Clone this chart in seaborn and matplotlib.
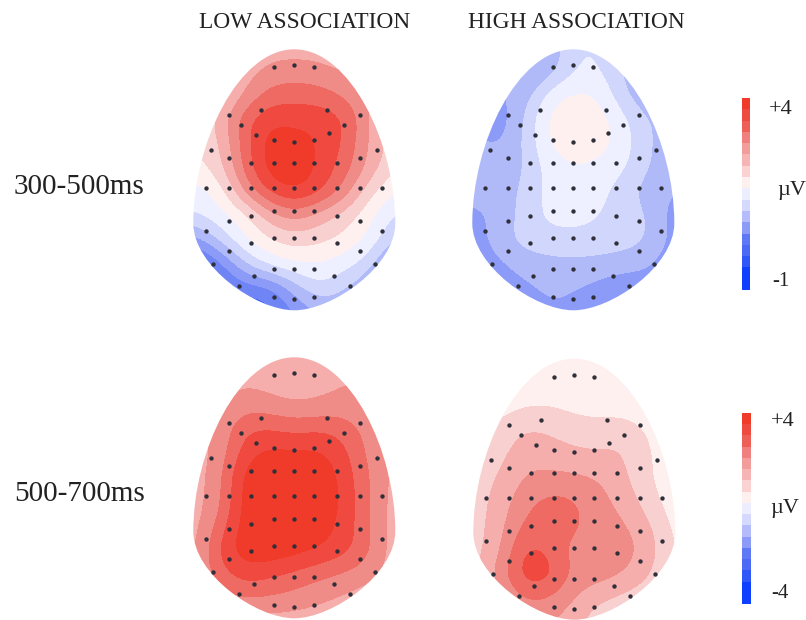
"""
Scalp potential maps: low vs high association, two time windows.
"""

import numpy as np
import pandas as pd
import matplotlib
matplotlib.use("Agg")
import matplotlib.pyplot as plt
import seaborn as sns
from matplotlib.colors import BoundaryNorm, ListedColormap
from matplotlib.path import Path
from matplotlib.patches import PathPatch

plt.rcParams["font.family"] = ["Liberation Serif", "DejaVu Serif"]

COLUMN_TITLES = ["LOW ASSOCIATION", "HIGH ASSOCIATION"]
ROW_TITLES = ["300-500ms", "500-700ms"]

# colour step per map region, blue (0) to red (13)
MAP_COLORS = ["#1a40ff", "#3a60f5", "#6f85f5", "#8c9bf8", "#b0baf9", "#d0d6fc", "#eef0ff",
              "#fdf0ee", "#f9d0d0", "#f5aeac", "#f08c88", "#ee6a62", "#f04a40", "#f03a2a"]
BAR_COLORS = ["#f03a2a", "#ee4a40", "#ee5f58", "#f08080", "#f39c9c", "#f7b4b4", "#fad2d2", "#fdf0ee",
              "#eceeff", "#d4d9fd", "#b4bcfb", "#8d9bf8", "#5f78f5", "#4d6af6", "#3058f8", "#1040ff", "#1040ff"]

GRID_DX = [-100, -75, -50, -25, 0, 25, 50, 75, 100]
GRID_DY = [-140, -116, -92, -68, -44, -20, 4, 28, 52, 76, 100, 124]

LOW_EARLY = [
    [9, 9, 9, 9.5, 9.5, 9.5, 9, 9, 9],
    [8, 9, 9.5, 10.3, 10.5, 10.3, 10, 9.5, 8],
    [8, 8.5, 10, 11.5, 11.6, 11.5, 10.8, 10, 8],
    [8, 9.3, 11.8, 12.9, 12.7, 12.8, 12.2, 10, 8],
    [8, 8.8, 11.6, 13.6, 13.6, 12.9, 12, 9.8, 8.5],
    [7.6, 8.5, 11.4, 13.6, 14, 12.8, 11.6, 9.7, 8],
    [6.5, 7.3, 10.3, 12.4, 13.2, 12.4, 10.7, 8.3, 7],
    [6, 6.6, 7.5, 9.5, 10.5, 9.5, 8.5, 7.3, 5.7],
    [3.5, 5.3, 7, 8, 8.5, 8.2, 7.8, 6.8, 5],
    [1, 2.5, 5, 6.5, 7, 7, 6.5, 5.5, 3],
    [1, 1.5, 2.5, 2.5, 4.5, 6, 5, 4, 2],
    [1, 1, 1, 1.5, 3, 4, 4, 4, 4],
]
HIGH_EARLY = [
    [4, 4, 4, 4, 6, 6, 5, 4, 4],
    [4, 4, 3.6, 4.3, 6, 6.2, 4.9, 3.6, 3.6],
    [4, 4, 4.2, 6.6, 7.3, 7, 5.2, 4, 4],
    [3.6, 3.2, 5, 7.3, 7.8, 7.6, 6.3, 5, 4.5],
    [4.4, 3.8, 5, 7.2, 7.6, 7.5, 6.6, 5, 4.5],
    [4.4, 4.4, 4.8, 6.5, 6.9, 6.8, 6.2, 5, 4.3],
    [4.4, 4.4, 5.2, 6.3, 6.9, 6.4, 5.4, 4.5, 4],
    [3.7, 4.2, 5.4, 6.3, 6.5, 6, 5.5, 5.1, 3.4],
    [3.5, 4.5, 5.5, 5.6, 5.6, 5.6, 5.5, 5.1, 3.6],
    [3.2, 3.8, 4.4, 4.7, 4.8, 4.7, 4.5, 4.2, 3.2],
    [3, 3.3, 3.8, 4.2, 4.1, 3.7, 3.2, 3.4, 3],
    [2.6, 2.6, 3.2, 3.9, 3.7, 2.9, 2.3, 2.6, 2.6],
]
LOW_LATE = [
    [9.4, 9.4, 9.4, 9.4, 9.4, 9.4, 9.4, 9.4, 9.4],
    [9.6, 9.6, 9.8, 9.6, 9.2, 9.6, 10, 10, 9.8],
    [9.7, 9.8, 10.6, 10.3, 10, 10.1, 10.3, 10.2, 9.8],
    [9.8, 10.2, 11.9, 12, 11.6, 11.9, 11.6, 10.5, 9.8],
    [9.5, 10.2, 12.6, 13.3, 13.2, 13.2, 12.3, 10.7, 9.5],
    [9.5, 10.6, 13.5, 14, 14, 14, 12.6, 11, 9.6],
    [9.5, 10.6, 13.6, 14, 14, 14, 12.8, 11, 9.5],
    [9.5, 11.3, 13.6, 14, 14, 13.6, 12.7, 11, 9.4],
    [9.6, 12.3, 13.8, 13.8, 13.6, 13.1, 12.5, 11.2, 9.4],
    [9.8, 11.7, 12.7, 12.4, 11.9, 11.4, 11, 10.5, 9.4],
    [9.6, 10.6, 11.2, 11, 10.7, 10.2, 9.8, 9.4, 9.2],
    [9.5, 9.5, 9.5, 9.5, 9.5, 9.5, 9.5, 9.5, 9.5],
]
HIGH_LATE = [
    [7, 7, 7, 7, 7, 7, 7, 7, 7],
    [6.8, 7, 7.1, 7.2, 7.2, 7.2, 6.9, 6.7, 6.7],
    [7.2, 7.5, 7.9, 8, 7.6, 7.4, 7.2, 6.8, 6.9],
    [8, 8.3, 9.1, 8.9, 8.6, 8.5, 8.9, 7.8, 7],
    [8.3, 8.6, 9.7, 9.4, 9.1, 9, 9.1, 8, 7.5],
    [8.4, 9.1, 10.1, 10.3, 10.2, 10, 9.2, 8, 7.4],
    [8.5, 9.4, 10.7, 11.4, 11.2, 10.3, 9.7, 8.4, 7.4],
    [8.5, 9.6, 11.3, 11.6, 11.3, 10.4, 10.2, 9.2, 7.6],
    [8.5, 9.8, 12.3, 11.8, 10.5, 10.4, 10.5, 9.6, 7.8],
    [8.7, 10.5, 12.8, 12.6, 10.6, 10.6, 10.1, 9.2, 7.6],
    [9, 9.6, 11.2, 11, 10, 9.2, 8.7, 8.2, 7.5],
    [9, 9.3, 10, 10, 9.4, 8.2, 8, 7.8, 7.5],
]

# electrode sites, relative to the map centre
ELECTRODE_DX = [-20, 0, 20, -33, 33, -65, 66, -53, 50, -38, 35, -20, 0, 20, -83, 83,
                -65, 66, -43, -20, 0, 20, 43,
                -88, -65, -43, -20, 0, 20, 43, 66, 88,
                -20, 0, 20, -43, 43, -65, 66, -88, 88,
                -20, 0, 20, -43, 43, -65, 66, -81, 81,
                -20, 0, 20, -40, 40, -55, 56, -20, 0, 20]
ELECTRODE_DY = [-121, -123, -121, -78, -78, -73, -73, -63, -63, -53, -55, -48, -46, -48, -38, -38,
                -30, -30, -25, -25, -25, -25, -25,
                0, 0, 0, 0, 0, 0, 0, 0, 0,
                23, 23, 23, 28, 28, 33, 33, 43, 43,
                50, 50, 50, 55, 55, 63, 63, 76, 76,
                81, 81, 81, 88, 88, 98, 98, 109, 111, 109]

MAPS = [
    (LOW_EARLY, 294.3, 188.3),
    (HIGH_EARLY, 573.3, 188.3),
    (LOW_LATE, 294.3, 496.3),
    (HIGH_LATE, 574.3, 497.7),
]


def egg_path(cx, cy):
    verts = [(0, -139), (56, -139), (101, -45), (101, 35), (101, 78), (38, 122), (0, 122),
             (-38, 122), (-101, 78), (-101, 35), (-101, -45), (-56, -139), (0, -139)]
    codes = [Path.MOVETO] + [Path.CURVE4] * 12
    return Path([(cx + x, cy + y) for x, y in verts], codes)


def draw_map(ax, grid, cx, cy):
    cmap = ListedColormap(MAP_COLORS)
    norm = BoundaryNorm(np.arange(len(MAP_COLORS) + 1), cmap.N, clip=True)
    extent = [cx + GRID_DX[0] - 12.5, cx + GRID_DX[-1] + 12.5, cy + GRID_DY[-1] + 12, cy + GRID_DY[0] - 12]
    im = ax.imshow(np.array(grid), cmap=cmap, norm=norm, extent=extent, aspect="auto",
                   interpolation="bicubic", interpolation_stage="data", zorder=1)
    patch = PathPatch(egg_path(cx, cy), transform=ax.transData, facecolor="none", edgecolor="none")
    ax.add_patch(patch)
    im.set_clip_path(patch)

    sites = pd.DataFrame({"x": np.array(ELECTRODE_DX) + cx, "y": np.array(ELECTRODE_DY) + cy})
    sns.scatterplot(data=sites, x="x", y="y", ax=ax, s=10, color="#30303a", linewidth=0, zorder=2)


def draw_scale(fig, left, top, width, height):
    ax = fig.add_axes([left / 806, 1 - (top + height) / 620, width / 806, height / 620])
    cells = np.arange(len(BAR_COLORS)).reshape(-1, 1)
    sns.heatmap(cells, cmap=ListedColormap(BAR_COLORS), cbar=False, ax=ax,
                xticklabels=False, yticklabels=False)
    ax.set_xlabel("")
    ax.set_ylabel("")


fig = plt.figure(figsize=(8.06, 6.2), dpi=100)
ax = fig.add_axes([0, 0, 1, 1])

for grid, cx, cy in MAPS:
    draw_map(ax, grid, cx, cy)

ax.set_xlim(0, 806)
ax.set_ylim(620, 0)
ax.axis("off")

ax.text(305, 22, COLUMN_TITLES[0], fontsize=16.8, ha="center", va="center", color="#222222")
ax.text(576, 22, COLUMN_TITLES[1], fontsize=16.8, ha="center", va="center", color="#222222")
ax.text(14, 187, ROW_TITLES[0], fontsize=21, ha="left", va="center", color="#222222")
ax.text(14, 494, ROW_TITLES[1], fontsize=21, ha="left", va="center", color="#222222")

draw_scale(fig, 742, 98, 7.5, 192)
draw_scale(fig, 742, 413, 8.5, 191)

ax.text(769, 110, "+4", fontsize=16, ha="left", va="center", color="#222222")
ax.text(777, 191, "µV", fontsize=16, ha="left", va="center", color="#222222")
ax.text(772, 282, "-1", fontsize=15, ha="left", va="center", color="#222222")
ax.text(771, 421, "+4", fontsize=16, ha="left", va="center", color="#222222")
ax.text(770, 508, "µV", fontsize=16, ha="left", va="center", color="#222222")
ax.text(771, 594, "-4", fontsize=15, ha="left", va="center", color="#222222")

fig.savefig("out.png", dpi=100)
plt.close()
